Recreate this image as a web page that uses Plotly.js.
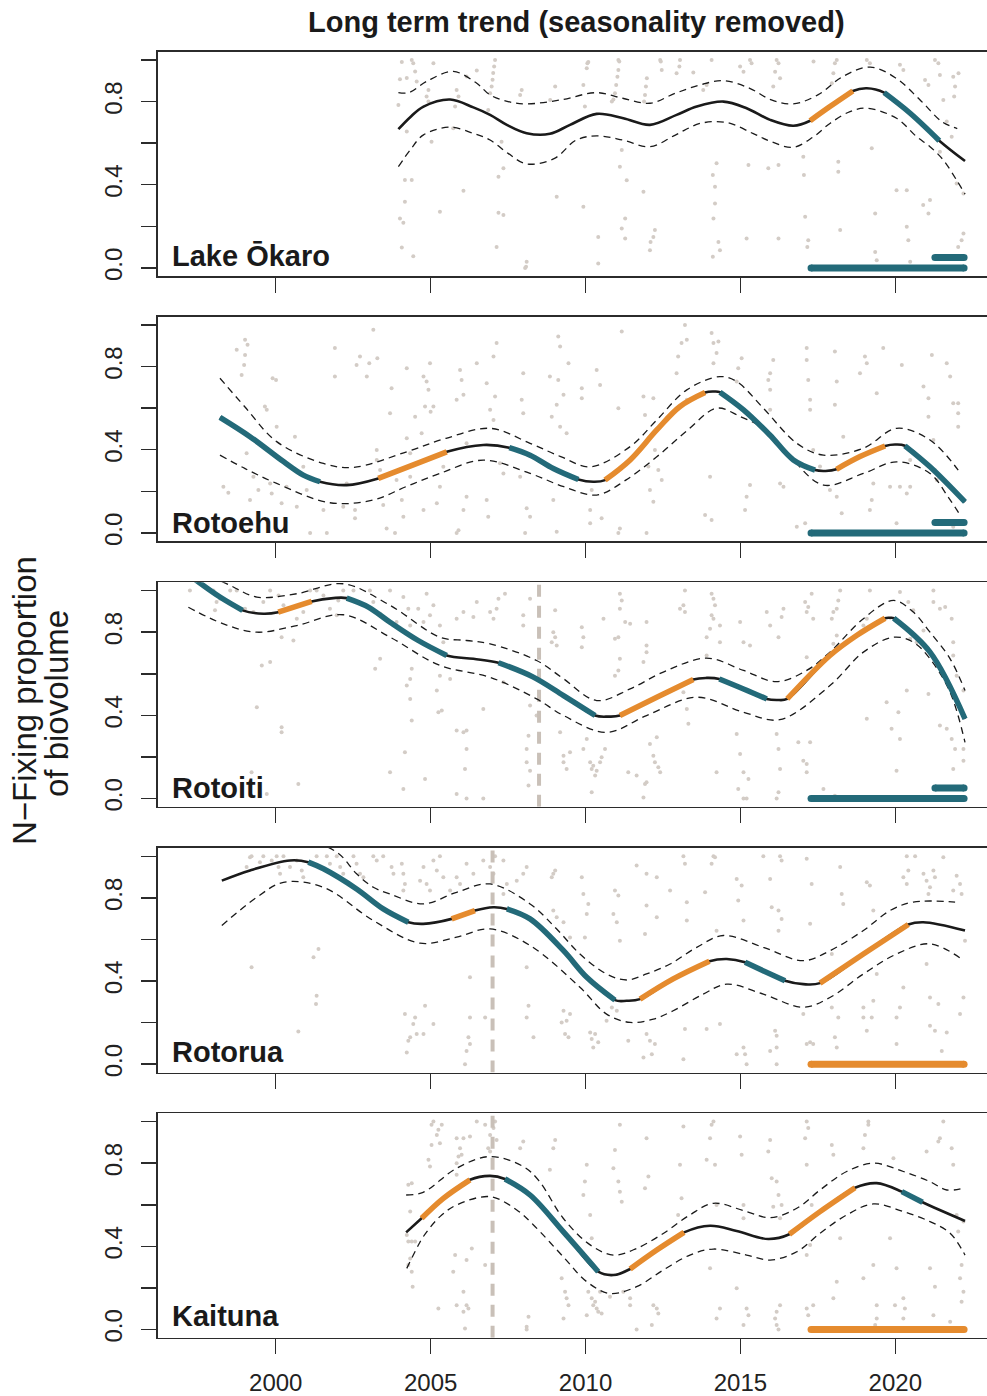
<!DOCTYPE html>
<html>
<head>
<meta charset="utf-8">
<script src="https://cdn.plot.ly/plotly-3.0.1.min.js"></script>
<style>
  html, body { margin: 0; padding: 0; background: #ffffff; }
  #chart { width: 987px; height: 1396px; }
</style>
</head>
<body>
<div id="chart"></div>
<script>
// ---------------------------------------------------------------
// Long term N-fixing proportion of biovolume, five Rotorua lakes
// ---------------------------------------------------------------

const lakeNames = ['Lake Ōkaro', 'Rotoehu', 'Rotoiti', 'Rotorua', 'Kaituna'];
const yearTicks = [2000, 2005, 2010, 2015, 2020];
const propTicks = [0, 0.2, 0.4, 0.6, 0.8, 1.0];
const propTickText = ['0.0', '', '0.4', '', '0.8', ''];

// ---- Lake Ōkaro ----
const okaroYears = [2003.96, 2004.34, 2004.77, 2005.63, 2006.38, 2006.92, 2007.46, 2008.1, 2008.85, 2009.5, 2010.36, 2011.22, 2012.08, 2012.94, 2013.59, 2014.45, 2015.2, 2015.96, 2016.71, 2017.25, 2017.89, 2018.63, 2019.08, 2019.64, 2020.48, 2021.42, 2022.25];
const okaroTrend = [0.667, 0.725, 0.776, 0.81, 0.772, 0.736, 0.688, 0.648, 0.645, 0.688, 0.741, 0.72, 0.688, 0.736, 0.776, 0.80, 0.768, 0.712, 0.684, 0.708, 0.776, 0.851, 0.864, 0.843, 0.744, 0.612, 0.514];
const okaroUpperYears = [2003.96, 2004.3, 2004.87, 2005.73, 2006.49, 2006.92, 2007.5, 2008.1, 2009.2, 2010.36, 2011.2, 2012.08, 2012.9, 2013.7, 2014.45, 2015.3, 2016.0, 2016.7, 2017.5, 2018.3, 2019.19, 2020.0, 2020.8, 2021.5, 2022.0];
const okaroUpper = [0.843, 0.843, 0.897, 0.945, 0.888, 0.832, 0.80, 0.789, 0.808, 0.843, 0.816, 0.792, 0.84, 0.88, 0.901, 0.864, 0.808, 0.789, 0.832, 0.92, 0.966, 0.915, 0.808, 0.704, 0.67];
const okaroLowerYears = [2003.96, 2004.34, 2004.77, 2005.63, 2006.38, 2006.92, 2007.5, 2008.1, 2009.0, 2009.7, 2010.36, 2011.2, 2012.08, 2012.9, 2013.7, 2014.56, 2015.4, 2016.0, 2016.7, 2017.36, 2017.89, 2018.54, 2019.08, 2020.04, 2020.69, 2021.12, 2021.55, 2021.98, 2022.25];
const okaroLower = [0.487, 0.567, 0.64, 0.677, 0.647, 0.615, 0.551, 0.50, 0.527, 0.615, 0.635, 0.615, 0.583, 0.639, 0.695, 0.699, 0.647, 0.607, 0.58, 0.631, 0.695, 0.752, 0.768, 0.72, 0.631, 0.583, 0.519, 0.422, 0.355];
const okaroRising = [[2017.25, 2018.63]];
const okaroFalling = [[2019.64, 2021.42]];
const okaroRecent = [[2017.28, 2022.22, 0.0, 'falling'], [2021.28, 2022.22, 0.05, 'falling']];
const okaroBreaks = [];
const okaroSamples = [
  [2004.07,0.99],[2004.39,1.0],[2004.44,0.985],[2005.09,0.985],[2004.01,0.908],[2004.23,0.913],[2004.50,0.945],[2004.55,0.897],
  [2004.93,0.856],[2004.87,0.824],[2004.93,0.80],[2005.84,0.856],[2005.90,0.824],[2005.79,0.776],[2006.16,0.921],[2006.49,0.95],
  [2007.08,1.0],[2007.05,0.969],[2007.02,0.937],[2007.0,0.905],[2006.97,0.872],[2006.92,0.84],[2006.86,0.76],[2007.94,0.856],
  [2007.89,0.832],[2003.96,0.784],[2004.23,0.656],[2005.73,0.672],[2005.03,0.607],[2007.29,0.607],[2004.17,0.423],[2004.39,0.423],
  [2007.35,0.479],[2007.19,0.439],[2006.06,0.371],[2004.17,0.318],[2004.01,0.238],[2004.12,0.217],[2005.30,0.27],[2007.19,0.265],
  [2007.35,0.254],[2004.07,0.098],[2004.44,0.056],[2007.13,0.101],[2008.10,0.029],[2008.05,0.0],[2008.08,0.005],
  [2010.09,0.99],[2010.06,0.985],[2010.04,0.96],[2009.02,0.872],[2008.86,0.808],[2009.93,0.88],[2009.98,0.776],[2010.85,0.80],
  [2011.06,1.0],[2011.09,0.993],[2011.06,0.952],[2011.03,0.92],[2010.99,0.88],[2010.95,0.84],[2010.90,0.81],[2012.41,1.0],
  [2012.43,0.993],[2012.46,0.952],[2011.98,0.912],[2011.95,0.872],[2011.92,0.832],[2011.89,0.80],[2013.05,1.0],[2013.03,0.969],
  [2012.94,0.936],[2013.48,0.94],[2013.80,0.856],[2013.91,0.88],[2014.07,1.0],[2014.99,0.969],[2015.31,1.0],[2015.36,0.985],
  [2015.10,0.944],[2016.17,1.0],[2016.23,0.985],[2016.12,0.944],[2016.28,0.912],[2016.06,0.872],[2017.36,0.993],[2018.11,1.0],
  [2018.05,0.985],[2018.00,0.936],[2017.95,0.888],[2019.08,1.0],[2019.18,0.985],[2020.15,0.977],[2020.26,0.952],[2020.96,0.904],
  [2021.07,0.88],[2021.28,1.0],[2021.39,0.985],[2021.44,0.928],[2021.87,0.92],[2021.93,0.872],[2021.90,0.824],[2022.04,0.936],
  [2021.55,0.808],[2021.66,0.704],[2021.82,0.631],
  [2011.17,0.567],[2011.11,0.487],[2011.33,0.422],[2009.07,0.342],[2009.93,0.294],[2011.87,0.366],[2011.28,0.238],[2011.17,0.19],
  [2011.28,0.141],[2010.41,0.149],[2010.41,0.021],[2012.24,0.182],[2012.19,0.149],[2012.10,0.125],[2012.08,0.085],[2014.11,0.447],
  [2014.18,0.39],[2014.23,0.503],[2014.18,0.31],[2014.13,0.238],[2014.29,0.125],[2014.34,0.085],[2014.11,0.053],[2015.26,0.495],
  [2015.20,0.141],[2015.90,0.479],[2016.23,0.495],[2016.23,0.141],[2017.03,0.535],[2017.05,0.447],[2017.09,0.246],[2017.19,0.133],
  [2017.16,0.101],[2018.16,0.463],[2018.16,0.511],[2019.24,0.575],[2018.22,0.182],[2019.35,0.262],[2019.35,0.077],[2019.40,0.037],
  [2020.04,0.374],[2020.37,0.374],[2020.37,0.198],[2020.48,0.029],[2020.90,0.302],[2021.12,0.326],[2021.07,0.262],[2020.42,0.133],
  [2022.14,0.133],[2022.20,0.165],[2022.03,0.101],[2021.98,0.406],[2021.44,0.559],[2022.20,0.358]
];

// ---- Rotoehu ----
const rotoehuYears = [1998.2, 1999.17, 2000.25, 2000.89, 2001.43, 2002.29, 2003.31, 2004.44, 2005.52, 2006.7, 2007.54, 2008.21, 2008.96, 2009.77, 2010.25, 2010.63, 2011.44, 2012.3, 2013.05, 2013.86, 2014.13, 2014.34, 2015.1, 2015.95, 2016.71, 2017.41, 2017.75, 2018.1, 2018.86, 2019.67, 2019.99, 2020.31, 2021.12, 2022.25];
const rotoehuTrend = [0.556, 0.463, 0.343, 0.278, 0.246, 0.23, 0.262, 0.327, 0.39, 0.423, 0.41, 0.374, 0.31, 0.257, 0.246, 0.254, 0.351, 0.495, 0.608, 0.675, 0.68, 0.677, 0.592, 0.471, 0.351, 0.302, 0.298, 0.306, 0.367, 0.418, 0.425, 0.419, 0.318, 0.149];
const rotoehuUpperYears = [1998.2, 1999.0, 2000.03, 2001.54, 2002.5, 2004.23, 2005.5, 2006.92, 2008.21, 2009.2, 2010.15, 2011.44, 2012.3, 2013.27, 2014.34, 2014.88, 2015.74, 2016.82, 2017.68, 2018.97, 2020.04, 2021.12, 2022.03];
const rotoehuUpper = [0.744, 0.607, 0.439, 0.334, 0.315, 0.39, 0.455, 0.503, 0.431, 0.367, 0.318, 0.415, 0.543, 0.688, 0.752, 0.728, 0.60, 0.431, 0.374, 0.407, 0.503, 0.447, 0.302];
const rotoehuLowerYears = [1998.2, 1999.0, 2000.03, 2001.75, 2003.15, 2004.2, 2005.3, 2006.7, 2008.21, 2009.3, 2010.36, 2011.3, 2012.3, 2013.3, 2014.24, 2015.0, 2015.74, 2016.6, 2017.68, 2018.97, 2020.04, 2021.12, 2021.7, 2022.13];
const rotoehuLower = [0.374, 0.31, 0.238, 0.145, 0.158, 0.222, 0.286, 0.35, 0.286, 0.222, 0.182, 0.254, 0.366, 0.495, 0.60, 0.559, 0.503, 0.367, 0.23, 0.286, 0.342, 0.286, 0.174, 0.077];
const rotoehuRising = [[2003.31, 2005.52], [2010.63, 2013.86], [2018.1, 2019.67]];
const rotoehuFalling = [[1998.2, 2001.43], [2007.54, 2009.77], [2014.34, 2017.41], [2020.31, 2022.25]];
const rotoehuRecent = [[2017.28, 2022.22, 0.0, 'falling'], [2021.28, 2022.22, 0.05, 'falling']];
const rotoehuBreaks = [];
const rotoehuSamples = [
  [1998.74,0.881],[1999.01,0.929],[1999.09,0.905],[1999.01,0.856],[1998.98,0.808],[1998.90,0.76],[1999.90,0.744],[2000.01,0.736],
  [1999.65,0.608],[1999.71,0.592],[2000.03,0.511],[1999.06,0.383],[1999.28,0.27],[1999.44,0.206],[1999.17,0.158],[1998.31,0.222],
  [1998.47,0.193],[1999.87,0.19],[1999.82,0.238],[2000.19,0.142],[2000.35,0.222],[2000.68,0.126],[2000.62,0.463],[2000.89,0.318],
  [2001.00,0.206],[2001.54,0.11],[2001.65,0.0],[2001.11,0.0],[2001.91,0.889],[2001.91,0.752],[2002.72,0.849],[2002.61,0.808],
  [2003.02,0.816],[2002.94,0.752],[2003.15,0.977],[2003.28,0.84],[2003.74,0.696],[2003.26,0.399],[2003.26,0.351],[2004.23,0.455],
  [2004.23,0.792],[2004.77,0.752],[2004.98,0.816],[2004.87,0.728],[2004.93,0.688],[2004.82,0.608],[2005.09,0.608],[2005.00,0.583],
  [2004.50,0.559],[2004.71,0.479],[2004.34,0.383],[2004.34,0.27],[2004.07,0.158],[2003.47,0.134],[2003.58,0.021],[2003.85,0.0],
  [2004.12,0.078],[2004.77,0.11],[2005.20,0.142],[2005.30,0.222],[2005.41,0.318],[2005.84,0.64],[2005.95,0.784],[2006.00,0.736],
  [2006.06,0.664],[2006.16,0.431],[2006.16,0.174],[2006.06,0.11],[2005.90,0.013],[2005.84,0.0],[2006.49,0.816],[2006.81,0.72],
  [2007.03,0.849],[2007.13,0.913],[2007.08,0.656],[2006.92,0.592],[2007.03,0.543],[2007.24,0.335],[2007.35,0.286],[2006.81,0.158],
  [2006.86,0.078],[2007.99,0.768],[2007.94,0.64],[2007.99,0.576],[2007.89,0.27],[2008.10,0.118],[2008.21,0.078],[2008.05,0.0],
  [2002.29,0.238],[2002.56,0.07],[2002.18,0.126],[2002.56,0.11],[2003.69,0.575],[2003.37,0.302],[2003.90,0.254],
  [2009.12,0.945],[2009.18,0.897],[2008.85,0.752],[2009.12,0.736],[2009.29,0.664],[2009.07,0.616],[2009.18,0.511],[2009.39,0.479],
  [2008.91,0.559],[2009.45,0.816],[2009.88,0.696],[2009.88,0.648],[2010.36,0.784],[2010.47,0.712],[2011.06,0.60],[2011.17,0.969],
  [2011.87,0.656],[2012.19,0.648],[2011.92,0.567],[2012.24,0.399],[2012.03,0.319],[2012.35,0.302],[2012.46,0.254],[2012.08,0.206],
  [2012.19,0.15],[2010.20,0.206],[2010.15,0.11],[2010.15,0.046],[2010.52,0.07],[2011.11,0.021],[2011.06,0.0],[2011.97,0.0],
  [2008.96,0.158],[2009.07,0.005],[2012.94,0.768],[2013.10,0.913],[2013.27,0.929],[2012.99,0.849],[2013.27,0.64],[2014.07,0.961],
  [2014.13,0.913],[2014.23,0.865],[2014.13,0.816],[2014.29,0.921],[2014.02,0.27],[2013.86,0.086],[2014.07,0.062],[2013.21,1.0],
  [2014.88,0.728],[2015.04,0.84],[2014.93,0.792],[2015.31,0.23],[2015.20,0.174],[2015.15,0.11],[2015.96,0.768],[2015.90,0.736],
  [2016.06,0.832],[2015.96,0.688],[2015.96,0.592],[2016.39,0.399],[2016.28,0.238],[2016.39,0.222],[2017.14,0.889],[2017.14,0.832],
  [2017.19,0.736],[2017.25,0.64],[2017.25,0.592],[2017.35,0.399],[2017.57,0.319],[2017.89,0.206],[2018.11,0.174],[2018.27,0.094],
  [2017.95,0.0],[2018.05,0.873],[2018.11,0.728],[2018.05,0.616],[2018.32,0.463],[2018.86,0.768],[2019.02,0.849],[2019.08,0.816],
  [2019.40,0.672],[2019.61,0.889],[2019.29,0.238],[2019.24,0.158],[2019.18,0.11],[2019.83,0.222],[2020.04,0.046],[2020.15,0.222],
  [2020.37,0.19],[2020.48,0.351],[2020.48,0.222],[2020.21,0.808],[2020.91,0.704],[2021.07,0.648],[2021.18,0.856],[2021.07,0.559],
  [2021.23,0.447],[2021.28,0.302],[2021.34,0.254],[2021.66,0.816],[2021.77,0.752],[2021.87,0.624],[2022.03,0.624],[2022.03,0.575],
  [2022.03,0.511],[2021.87,0.03],[2021.98,0.0],[2017.09,0.046],[2016.82,0.03]
];

// ---- Rotoiti ----
const rotoitiYears = [1997.2, 1998.2, 1998.93, 1999.6, 2000.08, 2001.16, 2001.86, 2002.29, 2002.99, 2003.69, 2004.6, 2005.52, 2006.38, 2007.19, 2008.3, 2009.29, 2010.31, 2010.74, 2011.11, 2012.3, 2013.48, 2013.91, 2014.32, 2015.1, 2015.85, 2016.17, 2016.51, 2017.89, 2018.75, 2019.67, 2019.83, 2019.95, 2021.12, 2022.25];
const rotoitiTrend = [1.075, 0.969, 0.905, 0.889, 0.896, 0.948, 0.964, 0.964, 0.921, 0.848, 0.76, 0.688, 0.672, 0.653, 0.585, 0.495, 0.399, 0.394, 0.399, 0.487, 0.572, 0.58, 0.575, 0.527, 0.479, 0.474, 0.479, 0.688, 0.784, 0.867, 0.869, 0.867, 0.704, 0.383];
const rotoitiUpperYears = [1997.2, 1998.53, 1999.39, 2000.68, 2002.18, 2003.69, 2005.3, 2006.16, 2006.92, 2008.42, 2009.29, 2010.36, 2011.44, 2012.51, 2013.91, 2015.1, 2016.17, 2017.14, 2017.89, 2018.97, 2019.94, 2020.58, 2021.12, 2021.77, 2022.25];
const rotoitiUpper = [1.12, 1.025, 0.969, 0.985, 1.033, 0.929, 0.776, 0.76, 0.744, 0.664, 0.576, 0.471, 0.527, 0.608, 0.675, 0.616, 0.562, 0.616, 0.704, 0.865, 0.953, 0.897, 0.80, 0.672, 0.519];
const rotoitiLowerYears = [1997.18, 1998.31, 1999.39, 2000.68, 2002.18, 2003.69, 2005.3, 2006.92, 2008.42, 2009.29, 2010.68, 2011.97, 2013.59, 2015.1, 2016.27, 2017.89, 2018.97, 2019.94, 2020.58, 2021.12, 2021.77, 2022.25];
const rotoitiLower = [0.92, 0.84, 0.80, 0.832, 0.884, 0.776, 0.64, 0.583, 0.479, 0.399, 0.318, 0.399, 0.487, 0.415, 0.379, 0.543, 0.704, 0.776, 0.752, 0.672, 0.511, 0.27];
const rotoitiRising = [[2000.08, 2001.16], [2011.11, 2013.48], [2016.51, 2019.67]];
const rotoitiFalling = [[1997.2, 1998.93], [2002.29, 2005.52], [2007.19, 2010.31], [2014.32, 2015.85], [2019.95, 2022.25]];
const rotoitiRecent = [[2017.28, 2022.22, 0.0, 'falling'], [2021.28, 2022.22, 0.05, 'falling']];
const rotoitiBreaks = [2008.5];
const rotoitiSamples = [
  [1997.23,1.0],[1997.99,1.0],[1998.09,0.945],[1998.04,0.905],[1998.20,0.961],[1998.53,1.0],[1998.74,1.0],[1999.01,0.913],
  [1999.28,0.897],[1999.60,0.945],[1999.82,1.0],[2000.09,0.977],[2000.25,0.929],[2000.19,0.776],[2000.57,0.76],[2000.68,0.865],
  [2000.89,0.897],[2001.11,1.0],[2001.32,1.0],[2001.54,0.977],[2001.75,0.913],[2001.97,0.881],[2002.02,0.953],[2002.18,1.0],
  [2002.51,1.0],[2003.04,1.0],[2003.15,0.945],[2003.37,0.889],[2003.69,1.0],[2004.12,0.969],[2004.28,0.913],[2003.90,0.849],
  [2004.34,0.832],[2004.60,0.913],[2004.77,0.849],[2004.87,0.985],[2004.98,0.881],[2005.09,0.929],[2005.30,0.832],[2005.41,0.752],
  [2005.84,0.865],[2006.06,0.897],[2006.38,0.873],[2006.49,0.945],[2006.92,0.897],[2007.03,0.865],[2007.19,0.961],[2007.13,0.913],
  [2007.40,0.985],[2007.99,0.881],[2007.99,0.832],[2008.21,0.961],[1999.55,0.64],[1999.82,0.656],[1999.39,0.439],[2000.19,0.343],
  [2000.19,0.319],[1999.22,0.126],[2000.73,0.07],[1999.71,0.021],[2003.21,0.624],[2003.37,0.672],[2003.69,0.126],[2004.17,0.222],
  [2004.12,0.046],[2004.34,0.575],[2004.34,0.479],[2004.39,0.375],[2004.23,0.543],[2004.39,0.624],[2004.82,0.094],[2005.25,0.415],
  [2005.36,0.423],[2005.20,0.519],[2005.84,0.327],[2006.06,0.319],[2006.16,0.327],[2006.16,0.238],[2006.11,0.142],[2006.16,0.0],
  [2005.84,0.021],[2006.70,0.0],[2006.70,0.431],[2007.35,0.559],[2007.78,0.624],[2007.99,0.608],[2008.21,0.447],[2008.16,0.302],
  [2008.10,0.238],[2008.10,0.174],[2008.16,0.062],[2008.21,0.134],[2008.42,0.399],[2005.30,0.591],[2005.63,0.575],
  [2008.96,0.80],[2009.02,0.776],[2009.07,0.736],[2008.91,0.752],[2009.88,0.824],[2009.93,0.776],[2009.88,0.728],[2009.02,0.905],
  [2010.58,0.865],[2011.11,0.985],[2011.17,0.953],[2011.11,0.913],[2011.06,0.776],[2010.95,0.768],[2011.11,0.672],[2011.06,0.616],
  [2010.95,0.591],[2011.28,0.849],[2011.44,0.84],[2011.97,0.849],[2011.97,0.736],[2011.87,0.656],[2011.97,0.704],[2013.21,1.0],
  [2013.16,0.929],[2013.05,0.913],[2013.21,0.897],[2014.07,0.985],[2014.13,0.961],[2014.18,0.929],[2014.07,0.881],[2014.13,0.865],
  [2014.02,0.816],[2014.34,0.832],[2014.34,0.752],[2013.91,0.776],[2013.91,0.688],[2014.99,0.849],[2015.10,0.752],[2015.31,0.736],
  [2015.85,0.897],[2015.96,0.832],[2016.39,0.913],[2016.33,0.873],[2016.23,0.776],[2017.09,0.945],[2017.19,0.921],[2017.14,0.897],
  [2017.30,0.985],[2017.35,0.865],[2017.14,0.68],[2018.22,1.0],[2018.11,0.913],[2018.00,0.897],[2018.16,0.953],[2017.95,0.865],
  [2018.11,0.784],[2018.00,0.744],[2018.97,0.832],[2019.08,0.865],[2019.18,1.0],[2020.15,0.993],[2020.42,0.945],[2020.58,0.905],
  [2020.48,0.768],[2020.69,0.752],[2020.91,0.808],[2021.23,0.945],[2021.44,0.913],[2021.61,0.921],[2021.23,1.0],[2021.82,0.865],
  [2021.87,0.688],[2021.98,0.591],[2022.20,0.519],[2021.87,0.752],
  [2009.18,0.319],[2009.29,0.206],[2009.29,0.174],[2009.39,0.142],[2009.50,0.222],[2009.93,0.238],[2010.04,0.286],[2010.15,0.174],
  [2010.20,0.142],[2010.25,0.158],[2010.36,0.134],[2010.47,0.174],[2010.31,0.11],[2010.52,0.198],[2010.20,0.03],[2010.63,0.238],
  [2011.38,0.126],[2011.65,0.11],[2011.92,0.07],[2011.97,0.078],[2011.87,0.005],[2012.08,0.262],[2012.19,0.206],[2012.24,0.174],
  [2012.35,0.15],[2012.41,0.126],[2012.30,0.294],[2013.16,0.511],[2013.27,0.431],[2013.32,0.359],[2014.23,0.126],[2014.88,0.31],
  [2014.99,0.214],[2015.10,0.126],[2014.93,0.046],[2015.26,0.094],[2015.10,0.0],[2015.20,0.0],[2016.17,0.31],[2016.23,0.238],
  [2016.28,0.142],[2016.23,0.03],[2016.17,0.0],[2016.87,0.27],[2017.03,0.182],[2017.14,0.166],[2017.25,0.27],[2017.14,0.126],
  [2017.68,0.046],[2018.05,0.013],[2019.08,0.383],[2019.72,0.463],[2019.88,0.335],[2020.15,0.286],[2020.10,0.415],[2020.37,0.519],
  [2020.04,0.134],[2021.07,0.503],[2021.44,0.351],[2021.66,0.335],[2021.82,0.286],[2021.93,0.238],[2021.87,0.142],[2022.20,0.182],
  [2022.20,0.238],[2019.02,0.005]
];

// ---- Rotorua ----
const rotoruaYears = [1998.26, 1999.17, 2000.46, 2001.05, 2001.54, 2002.61, 2003.47, 2004.28, 2004.76, 2005.68, 2006.43, 2007.02, 2007.46, 2008.21, 2009.29, 2010.04, 2010.95, 2011.33, 2011.76, 2012.83, 2014.0, 2014.56, 2015.15, 2016.44, 2017.03, 2017.57, 2018.97, 2020.42, 2020.9, 2022.25];
const rotoruaTrend = [0.883, 0.932, 0.98, 0.972, 0.94, 0.843, 0.747, 0.683, 0.675, 0.699, 0.739, 0.755, 0.747, 0.699, 0.546, 0.418, 0.308, 0.305, 0.313, 0.41, 0.495, 0.506, 0.49, 0.401, 0.385, 0.39, 0.53, 0.672, 0.683, 0.643];
const rotoruaUpperYears = [1998.26, 2000.5, 2001.97, 2002.61, 2003.15, 2003.69, 2004.76, 2005.84, 2006.92, 2008.21, 2009.07, 2009.82, 2010.68, 2011.33, 2011.97, 2012.73, 2013.59, 2014.45, 2015.74, 2017.03, 2017.89, 2018.97, 2019.83, 2020.58, 2021.93];
const rotoruaUpper = [1.12, 1.10, 1.02, 0.916, 0.851, 0.819, 0.771, 0.827, 0.867, 0.771, 0.65, 0.53, 0.434, 0.405, 0.434, 0.482, 0.562, 0.619, 0.562, 0.498, 0.546, 0.643, 0.739, 0.78, 0.78];
const rotoruaLowerYears = [1998.26, 1999.39, 2000.25, 2001.54, 2003.15, 2004.66, 2005.84, 2006.92, 2008.21, 2009.82, 2010.68, 2011.44, 2012.19, 2012.83, 2013.8, 2014.56, 2015.74, 2017.03, 2017.89, 2018.97, 2020.04, 2021.12, 2022.14];
const rotoruaLower = [0.667, 0.803, 0.875, 0.851, 0.691, 0.582, 0.611, 0.651, 0.571, 0.37, 0.241, 0.201, 0.217, 0.257, 0.337, 0.385, 0.337, 0.274, 0.321, 0.434, 0.53, 0.579, 0.506];
const rotoruaRising = [[2005.68, 2006.43], [2011.76, 2014.0], [2017.57, 2020.42]];
const rotoruaFalling = [[2001.05, 2004.28], [2007.46, 2010.95], [2015.15, 2016.44]];
const rotoruaRecent = [[2017.28, 2022.22, 0.0, 'rising']];
const rotoruaBreaks = [2007.0];
const rotoruaSamples = [
  [1999.06,0.948],[1999.17,0.996],[1999.22,1.0],[1999.49,0.972],[1999.60,1.0],[1999.87,0.98],[2000.03,1.0],[2000.09,0.948],
  [2000.14,0.916],[2000.25,1.0],[2000.46,0.948],[2000.68,0.98],[2000.84,0.932],[2000.89,0.899],[2001.11,0.964],[2001.32,1.0],
  [2001.65,1.0],[2001.75,0.964],[2001.97,1.0],[2002.08,0.948],[2002.18,0.916],[2002.51,1.0],[2002.61,0.964],[2002.72,0.916],
  [2002.83,0.899],[2003.15,1.0],[2003.26,0.98],[2003.47,1.0],[2003.74,0.948],[2003.80,0.916],[2004.07,0.964],[2004.12,0.916],
  [2004.17,0.867],[2004.12,0.835],[2004.66,0.883],[2004.87,0.867],[2004.77,0.948],[2005.09,0.98],[2005.30,1.0],[2005.20,0.932],
  [2005.41,0.899],[2005.63,0.835],[2005.84,0.899],[2005.95,0.867],[2006.16,0.964],[2006.38,0.916],[2006.70,0.98],[2006.92,0.948],
  [2007.03,0.916],[2007.08,1.0],[2007.35,0.819],[2007.46,0.867],[2007.78,0.883],[2007.99,0.916],[2008.10,0.948],[2007.35,0.98],
  [2004.98,0.835],[1999.22,0.466],[2001.38,0.554],[2001.22,0.514],[2001.32,0.329],[2001.30,0.289],[2000.73,0.157],[2004.17,0.241],
  [2004.34,0.129],[2004.28,0.113],[2004.44,0.193],[2004.50,0.225],[2004.55,0.145],[2004.77,0.145],[2004.82,0.281],[2004.23,0.056],
  [2005.09,0.193],[2006.27,0.418],[2006.27,0.225],[2006.22,0.129],[2006.27,0.097],[2006.16,0.064],[2006.11,0.0],[2006.76,0.225],
  [2008.10,0.466],[2008.16,0.281],[2008.10,0.225],[2008.32,0.129],
  [2009.02,0.932],[2008.91,0.899],[2008.96,0.916],[2009.88,0.899],[2009.93,0.819],[2010.09,0.771],[2010.04,0.723],[2008.96,0.739],
  [2009.07,0.707],[2009.29,0.683],[2009.50,0.61],[2009.98,0.61],[2010.95,0.835],[2011.06,0.811],[2010.90,0.723],[2011.01,0.683],
  [2011.11,0.594],[2011.65,0.956],[2011.97,0.916],[2012.30,0.899],[2011.97,0.763],[2012.30,0.707],[2011.92,0.626],[2012.73,0.835],
  [2013.16,1.0],[2013.21,0.964],[2013.27,0.779],[2013.27,0.691],[2014.13,1.0],[2014.18,0.996],[2014.07,0.964],[2013.86,0.827],
  [2014.23,0.642],[2014.88,0.891],[2014.93,0.787],[2015.04,0.859],[2015.10,0.691],[2015.74,1.0],[2015.96,0.891],[2016.28,1.0],
  [2016.33,0.98],[2016.23,0.739],[2016.01,0.755],[2016.33,0.699],[2016.23,0.642],[2017.14,0.988],[2017.30,0.867],[2017.25,0.675],
  [2018.22,0.948],[2018.27,0.819],[2018.32,0.771],[2019.08,0.875],[2019.18,0.859],[2019.29,0.739],[2020.26,0.899],[2020.37,0.867],
  [2020.42,0.932],[2020.91,0.916],[2021.01,0.883],[2021.12,0.851],[2021.07,0.819],[2021.23,0.932],[2021.28,0.899],[2021.98,0.907],
  [2022.09,0.867],[2022.14,0.819],[2021.87,0.835],[2021.55,0.996],[2020.64,1.0],[2020.37,1.0],
  [2009.29,0.257],[2009.39,0.209],[2009.23,0.201],[2009.50,0.241],[2009.34,0.145],[2009.45,0.129],[2010.15,0.153],[2010.20,0.121],
  [2010.31,0.145],[2010.41,0.105],[2010.25,0.08],[2010.68,0.209],[2010.85,0.273],[2011.01,0.257],[2011.38,0.113],[2011.87,0.032],
  [2011.97,0.145],[2012.08,0.113],[2012.24,0.097],[2012.14,0.048],[2013.16,0.024],[2013.21,0.169],[2013.91,0.169],[2014.34,0.193],
  [2014.88,0.048],[2015.10,0.08],[2015.15,0.048],[2015.20,0.0],[2015.96,0.064],[2016.12,0.161],[2016.17,0.137],[2016.17,0.08],
  [2016.17,0.0],[2017.03,0.241],[2017.14,0.097],[2017.25,0.105],[2017.35,0.097],[2017.95,0.53],[2017.95,0.273],[2018.05,0.129],
  [2018.11,0.08],[2018.16,0.225],[2018.97,0.273],[2018.97,0.225],[2019.08,0.161],[2019.24,0.225],[2019.29,0.305],[2019.40,0.434],
  [2020.04,0.225],[2020.15,0.273],[2020.04,0.097],[2020.26,0.369],[2021.01,0.482],[2021.12,0.321],[2021.12,0.185],[2021.28,0.161],
  [2021.39,0.289],[2021.50,0.064],[2021.66,0.153],[2022.09,0.241],[2022.20,0.321],[2022.25,0.594]
];

// ---- Kaituna ----
const kaitunaYears = [2004.21, 2004.71, 2005.41, 2006.27, 2006.92, 2007.4, 2008.21, 2009.28, 2010.41, 2010.9, 2011.44, 2012.3, 2013.18, 2014.02, 2014.88, 2015.9, 2016.58, 2017.57, 2018.7, 2019.4, 2020.21, 2020.88, 2022.25];
const kaitunaTrend = [0.467, 0.535, 0.631, 0.72, 0.739, 0.724, 0.647, 0.471, 0.278, 0.262, 0.291, 0.382, 0.467, 0.499, 0.474, 0.435, 0.458, 0.567, 0.682, 0.704, 0.663, 0.612, 0.522];
const kaitunaUpperYears = [2004.21, 2004.76, 2005.84, 2006.92, 2007.99, 2008.5, 2009.28, 2010.15, 2010.9, 2011.65, 2012.51, 2013.37, 2014.13, 2015.2, 2015.96, 2016.82, 2017.57, 2018.43, 2019.29, 2020.26, 2021.12, 2021.66, 2022.2];
const kaitunaUpper = [0.647, 0.66, 0.776, 0.832, 0.784, 0.715, 0.535, 0.407, 0.358, 0.39, 0.462, 0.551, 0.607, 0.567, 0.538, 0.583, 0.671, 0.76, 0.80, 0.76, 0.711, 0.671, 0.68];
const kaitunaLowerYears = [2004.23, 2004.55, 2004.76, 2005.3, 2005.84, 2006.92, 2007.78, 2008.32, 2009.28, 2010.04, 2010.79, 2011.65, 2012.51, 2013.37, 2014.13, 2015.2, 2015.96, 2016.82, 2017.57, 2018.43, 2019.29, 2020.26, 2021.12, 2021.77, 2022.25];
const kaitunaLower = [0.294, 0.39, 0.446, 0.543, 0.599, 0.639, 0.575, 0.503, 0.35, 0.23, 0.173, 0.206, 0.286, 0.358, 0.387, 0.358, 0.334, 0.374, 0.463, 0.551, 0.604, 0.567, 0.519, 0.463, 0.358];
const kaitunaRising = [[2004.71, 2006.27], [2011.44, 2013.18], [2016.58, 2018.7]];
const kaitunaFalling = [[2007.4, 2010.41], [2020.21, 2020.88]];
const kaitunaRecent = [[2017.28, 2022.22, 0.0, 'rising']];
const kaitunaBreaks = [2007.0];
const kaitunaSamples = [
  [2004.28,0.696],[2004.39,0.704],[2004.34,0.567],[2004.23,0.455],[2004.28,0.423],[2004.39,0.423],[2004.50,0.423],[2004.34,0.342],
  [2004.28,0.31],[2004.39,0.278],[2004.42,0.206],[2004.93,0.816],[2004.98,0.784],[2005.03,0.888],[2005.20,0.936],[2005.25,0.961],
  [2005.30,0.896],[2005.03,0.985],[2005.36,0.985],[2005.84,0.92],[2005.95,0.872],[2006.00,0.84],[2005.90,0.832],[2005.84,0.80],
  [2005.84,0.744],[2006.06,0.92],[2006.27,0.928],[2006.49,1.0],[2006.76,0.985],[2006.86,0.872],[2006.92,0.936],[2007.03,0.969],
  [2007.08,1.0],[2006.92,0.856],[2007.13,0.912],[2007.89,0.872],[2007.99,0.904],[2005.79,0.358],[2005.73,0.278],[2006.33,0.39],
  [2006.16,0.334],[2006.06,0.182],[2006.16,0.117],[2006.22,0.101],[2006.06,0.085],[2005.84,0.117],[2005.25,0.101],[2006.11,0.005],
  [2006.76,0.31],[2008.16,0.061],[2008.10,0.013],[2008.10,0.0],[2005.09,1.0],
  [2009.02,0.912],[2008.96,0.872],[2008.85,0.768],[2010.04,0.792],[2009.98,0.712],[2010.15,0.551],[2010.20,0.439],[2009.93,0.647],
  [2010.95,0.864],[2010.90,0.776],[2011.06,0.712],[2011.11,0.663],[2011.17,0.615],[2011.11,0.985],[2011.97,0.92],[2012.03,0.736],
  [2011.92,0.679],[2013.16,0.977],[2013.05,0.792],[2013.10,0.631],[2012.99,0.551],[2013.91,0.816],[2014.07,0.985],[2014.13,1.0],
  [2014.02,0.92],[2014.18,0.792],[2014.23,0.599],[2014.02,0.294],[2014.99,0.928],[2015.04,0.84],[2015.10,0.599],[2015.10,0.535],
  [2015.96,0.912],[2015.90,0.856],[2016.01,0.728],[2016.17,0.712],[2016.23,0.647],[2016.33,0.599],[2016.06,0.591],[2016.28,0.535],
  [2017.14,1.0],[2017.19,0.969],[2017.09,0.92],[2017.14,0.792],[2017.30,0.599],[2017.25,0.406],[2017.14,0.358],[2017.35,0.117],
  [2017.95,0.888],[2018.00,0.84],[2018.22,0.439],[2018.11,0.23],[2018.00,0.15],[2018.97,0.872],[2019.02,0.936],[2019.13,0.985],
  [2019.13,1.0],[2019.94,0.824],[2019.83,0.439],[2019.29,0.31],[2020.04,0.294],[2021.12,0.294],[2021.28,0.206],[2021.01,0.856],
  [2021.44,0.92],[2021.55,1.0],[2021.39,0.904],[2021.82,0.872],[2021.87,0.792],[2021.98,0.551],[2022.20,0.519],[2022.03,0.471],
  [2022.14,0.31],[2022.09,0.246],[2022.20,0.182],[2022.14,0.134],[2021.77,0.037],[2021.23,0.069],[2020.26,0.15],[2020.31,0.101],
  [2020.26,0.053],[2019.99,0.117],[2019.40,0.117],[2019.40,0.053],[2019.35,0.021],[2020.04,0.0],
  [2009.23,0.246],[2009.34,0.182],[2009.39,0.15],[2009.45,0.117],[2009.29,0.053],[2010.09,0.182],[2010.20,0.15],[2010.31,0.134],
  [2010.36,0.101],[2010.47,0.182],[2010.41,0.085],[2010.25,0.117],[2010.52,0.077],[2010.04,0.069],[2010.79,0.158],[2011.22,0.182],
  [2011.44,0.15],[2011.44,0.117],[2011.65,0.0],[2012.19,0.117],[2012.30,0.101],[2012.35,0.077],[2012.14,0.021],[2014.34,0.101],
  [2014.23,0.053],[2015.20,0.101],[2015.26,0.069],[2015.10,0.021],[2014.88,0.198],[2016.12,0.053],[2016.17,0.021],[2016.23,0.0],
  [2016.17,0.085],[2016.28,0.117],[2017.14,0.101],[2017.19,0.069],[2017.30,0.0],[2018.11,0.0],[2018.97,0.246]
];

// ---------------------------------------------------------------
const lakes = [
  {name: lakeNames[0], years: okaroYears, trend: okaroTrend, upX: okaroUpperYears, up: okaroUpper, loX: okaroLowerYears, lo: okaroLower,
   rising: okaroRising, falling: okaroFalling, recent: okaroRecent, breaks: okaroBreaks, samples: okaroSamples, labelY: 0.058},
  {name: lakeNames[1], years: rotoehuYears, trend: rotoehuTrend, upX: rotoehuUpperYears, up: rotoehuUpper, loX: rotoehuLowerYears, lo: rotoehuLower,
   rising: rotoehuRising, falling: rotoehuFalling, recent: rotoehuRecent, breaks: rotoehuBreaks, samples: rotoehuSamples, labelY: 0.047},
  {name: lakeNames[2], years: rotoitiYears, trend: rotoitiTrend, upX: rotoitiUpperYears, up: rotoitiUpper, loX: rotoitiLowerYears, lo: rotoitiLower,
   rising: rotoitiRising, falling: rotoitiFalling, recent: rotoitiRecent, breaks: rotoitiBreaks, samples: rotoitiSamples, labelY: 0.05},
  {name: lakeNames[3], years: rotoruaYears, trend: rotoruaTrend, upX: rotoruaUpperYears, up: rotoruaUpper, loX: rotoruaLowerYears, lo: rotoruaLower,
   rising: rotoruaRising, falling: rotoruaFalling, recent: rotoruaRecent, breaks: rotoruaBreaks, samples: rotoruaSamples, labelY: 0.06},
  {name: lakeNames[4], years: kaitunaYears, trend: kaitunaTrend, upX: kaitunaUpperYears, up: kaitunaUpper, loX: kaitunaLowerYears, lo: kaitunaLower,
   rising: kaitunaRising, falling: kaitunaFalling, recent: kaitunaRecent, breaks: kaitunaBreaks, samples: kaitunaSamples, labelY: 0.064}
];

const FONT = '"Liberation Sans", Arial, Helvetica, sans-serif';
const W = 987, H = 1396;
const plotLeftPx = 157.7;
const xRange = [1996.19, 2022.96];
const yRange = [-0.04, 1.04];
const panelTopPx = [51.7, 316.7, 582.3, 848, 1113.3];
const panelHeightPx = 224.5;

const teal = '#236a79';
const orange = '#e58b2e';
const sampleGrey = '#d3ccc6';
const breakGrey = '#c9c0b8';
const ink = '#1a1a1a';
const axisInk = '#2b2b2b';

const traces = [];
const annotations = [];
const layout = {
  width: W, height: H,
  margin: {l: 0, r: 0, t: 0, b: 0},
  paper_bgcolor: '#ffffff', plot_bgcolor: '#ffffff',
  showlegend: false,
  font: {family: FONT, color: ink},
  annotations: annotations
};

function subset(xs, ys, a, b) {
  const sx = [], sy = [];
  xs.forEach((x, i) => { if (x >= a - 1e-6 && x <= b + 1e-6) { sx.push(x); sy.push(ys[i]); } });
  return {x: sx, y: sy};
}

lakes.forEach((lk, i) => {
  const n = i + 1;
  const sfx = n === 1 ? '' : String(n);
  const xa = 'x' + sfx, ya = 'y' + sfx;
  const common = {type: 'scatter', xaxis: xa, yaxis: ya, hoverinfo: 'skip', showlegend: false};

  // raw observations
  traces.push(Object.assign({}, common, {
    mode: 'markers',
    x: lk.samples.map(p => p[0]), y: lk.samples.map(p => p[1]),
    marker: {size: 4, color: sampleGrey, line: {width: 0}}
  }));

  // detected breakpoints
  lk.breaks.forEach(b => {
    traces.push(Object.assign({}, common, {
      mode: 'lines', x: [b, b], y: yRange,
      line: {color: breakGrey, width: 4, dash: '12px,9px'}
    }));
  });

  // confidence band edges
  traces.push(Object.assign({}, common, {
    mode: 'lines', x: lk.upX, y: lk.up,
    line: {color: ink, width: 1.3, dash: '7px,5px', shape: 'spline', smoothing: 1}
  }));
  traces.push(Object.assign({}, common, {
    mode: 'lines', x: lk.loX, y: lk.lo,
    line: {color: ink, width: 1.3, dash: '7px,5px', shape: 'spline', smoothing: 1}
  }));

  // fitted trend
  traces.push(Object.assign({}, common, {
    mode: 'lines', x: lk.years, y: lk.trend,
    line: {color: ink, width: 2.6, shape: 'spline', smoothing: 1}
  }));

  // periods of significant change
  [[lk.rising, orange], [lk.falling, teal]].forEach(([periods, col]) => {
    periods.forEach(([a, b]) => {
      const s = subset(lk.years, lk.trend, a, b);
      traces.push(Object.assign({}, common, {
        mode: 'lines', x: s.x, y: s.y,
        line: {color: col, width: 5.5, shape: 'spline', smoothing: 1}
      }));
    });
  });

  // recent-period trend direction bars
  lk.recent.forEach(([a, b, lvl, dir]) => {
    const col = dir === 'rising' ? orange : teal;
    traces.push(Object.assign({}, common, {
      mode: 'lines+markers', x: [a, b], y: [lvl, lvl],
      line: {color: col, width: 7},
      marker: {size: 7, color: col, line: {width: 0}}
    }));
  });

  const top = panelTopPx[i];
  layout['xaxis' + sfx] = {
    domain: [plotLeftPx / W, 1], range: xRange, anchor: ya,
    tickmode: 'array', tickvals: yearTicks,
    ticks: 'outside', ticklen: 15, tickwidth: 1.5, tickcolor: axisInk,
    showline: true, mirror: true, linecolor: axisInk, linewidth: 1.6,
    showgrid: false, zeroline: false, fixedrange: true,
    showticklabels: n === 5,
    tickfont: {family: FONT, size: 24, color: '#222222'},
    ticklabelstandoff: 8
  };
  layout['yaxis' + sfx] = {
    domain: [1 - (top + panelHeightPx) / H, 1 - top / H], range: yRange, anchor: xa,
    tickmode: 'array', tickvals: propTicks, ticktext: propTickText,
    ticks: 'outside', ticklen: 15, tickwidth: 1.5, tickcolor: axisInk,
    tickangle: -90,
    showline: true, linecolor: axisInk, linewidth: 1.6,
    showgrid: false, zeroline: false, fixedrange: true,
    tickfont: {family: FONT, size: 24, color: '#222222'},
    ticklabelstandoff: 10
  };

  annotations.push({
    text: lk.name, xref: 'paper', yref: ya,
    x: 170 / W, y: lk.labelY, xanchor: 'left', yanchor: 'middle',
    showarrow: false,
    font: {family: FONT, size: 29, color: ink, weight: 'bold'}
  });
});

// figure title
annotations.push({
  text: 'Long term trend (seasonality removed)',
  xref: 'paper', yref: 'paper', x: 576.5 / W, y: 1 - 22 / H,
  xanchor: 'center', yanchor: 'middle', showarrow: false,
  font: {family: FONT, size: 29, color: ink, weight: 'bold'}
});

// shared y-axis title (two lines)
annotations.push({
  text: 'N−Fixing proportion', xref: 'paper', yref: 'paper',
  x: 24 / W, y: 1 - 701 / H, xanchor: 'center', yanchor: 'middle',
  textangle: -90, showarrow: false,
  font: {family: FONT, size: 33, color: ink}
});
annotations.push({
  text: 'of biovolume', xref: 'paper', yref: 'paper',
  x: 56 / W, y: 1 - 704 / H, xanchor: 'center', yanchor: 'middle',
  textangle: -90, showarrow: false,
  font: {family: FONT, size: 33, color: ink}
});

Plotly.newPlot('chart', traces, layout, {staticPlot: true, displayModeBar: false});
</script>
</body>
</html>
